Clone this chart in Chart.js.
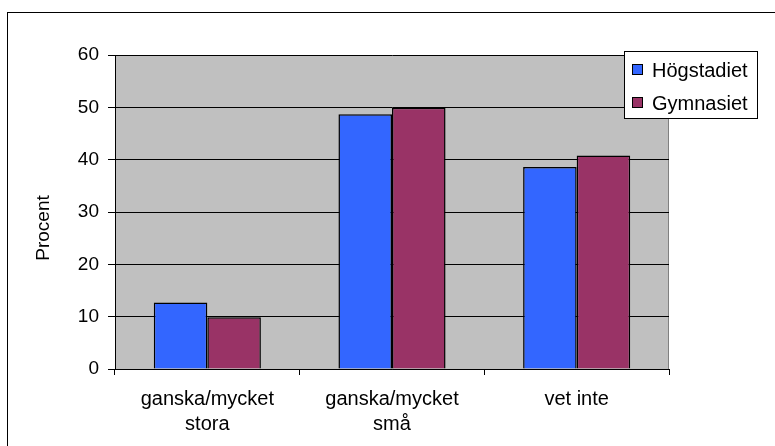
<!DOCTYPE html>
<html>
<head>
<meta charset="utf-8">
<script src="https://cdn.jsdelivr.net/npm/chart.js@4/dist/chart.umd.min.js"></script>
<style>
  html, body { margin: 0; padding: 0; background: #fff; }
  #wrap { width: 775px; height: 446px; }
</style>
</head>
<body>
<div id="wrap"><canvas id="myChart"></canvas></div>
<script>
const categories = [["ganska/mycket", "stora"], ["ganska/mycket", "små"], "vet inte"];
const seriesNames = ["Högstadiet", "Gymnasiet"];
const hogValues = [12.7, 48.7, 38.6];
const gymValues = [9.9, 49.9, 40.8];
const barColors = ["#3366FF", "#993366"];
const yTicks = [0, 10, 20, 30, 40, 50, 60];
const yTitle = "Procent";

const FONT = "'Liberation Sans', Arial, sans-serif";

// frame + grey plot background
const backdrop = {
    id: "backdrop",
    beforeDraw(chart) {
        const c = chart.ctx, a = chart.chartArea;
        c.save();
        c.fillStyle = "#fff";
        c.fillRect(0, 0, chart.width, chart.height);
        c.strokeStyle = "#000";
        c.lineWidth = 1;
        c.strokeRect(7.5, 12.5, 900, 600);
        c.fillStyle = "#C0C0C0";
        c.fillRect(a.left, a.top, a.right - a.left, a.bottom - a.top);
        c.strokeStyle = "#808080";
        c.beginPath();
        c.moveTo(a.right - 0.5, a.top);
        c.lineTo(a.right - 0.5, a.bottom);
        c.stroke();
        c.restore();
    }
};

// legend box over the plot + axis title, placed like the original
const boxLegend = {
    id: "boxLegend",
    afterDraw(chart) {
        const c = chart.ctx;
        c.save();
        c.fillStyle = "#fff";
        c.fillRect(624, 51, 133, 67);
        c.strokeStyle = "#000";
        c.lineWidth = 1;
        c.strokeRect(624.5, 51.5, 133, 67);
        c.font = "20px " + FONT;
        c.textBaseline = "middle";
        chart.data.datasets.forEach((ds, i) => {
            const y = 70 + i * 33;
            c.fillStyle = ds.backgroundColor;
            c.fillRect(632, y - 5, 10, 10);
            c.strokeRect(632.5, y - 5.5, 10, 10);
            c.fillStyle = "#000";
            c.fillText(ds.label, 652, y + 1);
        });

        c.translate(44, 228);
        c.rotate(-Math.PI / 2);
        c.textAlign = "center";
        c.font = "19px " + FONT;
        c.fillText(yTitle, 0, 0);
        c.restore();
    }
};

new Chart("myChart", {
    type: "bar",
    data: {
        labels: categories,
        datasets: [
            { label: seriesNames[0], data: hogValues, backgroundColor: barColors[0] },
            { label: seriesNames[1], data: gymValues, backgroundColor: barColors[1] }
        ]
    },
    options: {
        responsive: true,
        maintainAspectRatio: false,
        animation: false,
        layout: { padding: { left: 0, top: 55, right: 106, bottom: 0 } },
        datasets: {
            bar: {
                borderColor: "#000",
                borderWidth: 1.5,
                barPercentage: 1,
                categoryPercentage: 0.58
            }
        },
        plugins: {
            legend: { display: false },
            tooltip: { enabled: false }
        },
        scales: {
            x: {
                afterFit(s) { s.height = 77; },
                grid: {
                    display: true,
                    offset: true,
                    drawOnChartArea: false,
                    tickLength: 6,
                    color: "#000",
                    tickColor: "#000"
                },
                border: { color: "#000" },
                ticks: {
                    color: "#000",
                    font: { family: FONT, size: 20, lineHeight: 1.25 },
                    padding: 12,
                    maxRotation: 0
                }
            },
            y: {
                min: 0,
                max: 60,
                afterFit(s) { s.width = 115; },
                afterBuildTicks(s) { s.ticks = yTicks.map(v => ({ value: v })); },
                grid: {
                    color: "#000",
                    tickColor: "#000",
                    tickLength: 7
                },
                border: { color: "#000" },
                ticks: {
                    color: "#000",
                    font: { family: FONT, size: 19 },
                    padding: 9
                }
            }
        }
    },
    plugins: [backdrop, boxLegend]
});
</script>
</body>
</html>
